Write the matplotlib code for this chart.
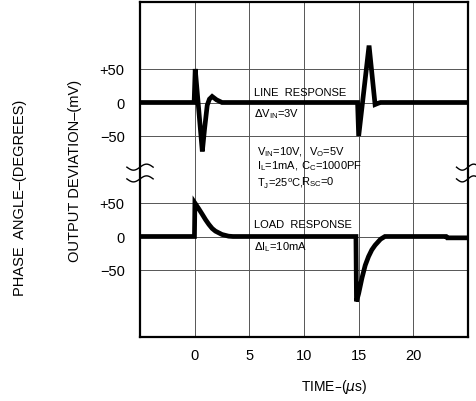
# plot.py — line / load transient response of a voltage regulator.
import numpy as np, matplotlib
matplotlib.use("Agg")
import matplotlib.pyplot as plt

plt.rcParams["font.family"] = ["Liberation Sans", "DejaVu Sans"]

# line response (upper trace), time in us, deviation in mV
line_t = [-5, -0.05, 0.05, 0.7, 0.9, 1.15, 1.35, 1.6, 2.0, 2.5,
          14.9, 15.0, 15.95, 16.5, 16.8, 17.0, 25]
line_mv = [0, 0, 50, -73, -40, -4, 5, 9, 4, 0,
           0, -50, 85, -3, -1, 0, 0]
# load response (lower trace)
load_t = [-5, -0.02, 0.02, 0.35, 0.7, 1.0, 1.3, 1.6, 1.9, 2.5, 3.1, 3.5,
          14.75, 14.8, 15.0, 15.3, 15.6, 15.9, 16.2, 16.5, 17.0, 17.4, 23.0, 23.1, 25]
load_mv = [0, 0, 50, 42, 33, 25, 18, 12, 8, 3, 0.5, 0,
           0, -97, -85, -62, -43, -30, -20, -13, -4, 0, 0, -2, -2]

x_ticks = [0, 5, 10, 15, 20]
y_ticks = [-50, 0, 50]
y_labels = ["\u221250", "0", "+50"]
offset = 200  # upper trace is stacked 200 mV above the lower one

fig = plt.figure(figsize=(4.76, 4.02), dpi=100)
ax = fig.add_axes([140 / 476, 1 - 338 / 402, 328 / 476, 335 / 402])
ax.set_xlim(-5, 25); ax.set_ylim(-150, 350)

ax.plot(line_t, np.array(line_mv) + offset, color="black", lw=3.4, solid_joinstyle="miter", zorder=3)
ax.plot(load_t, load_mv, color="black", lw=3.4, solid_joinstyle="miter", zorder=3)

ax.set_xticks(x_ticks)
yt = y_ticks + [v + offset for v in y_ticks]
ax.set_yticks(yt)
ax.set_yticklabels(y_labels + y_labels)
ax.tick_params(length=0, labelsize=10.5, colors="black")
ax.tick_params(axis="y", pad=11)
ax.tick_params(axis="x", pad=8)
ax.grid(True, color="#555555", lw=0.7)
ax.set_axisbelow(True)
for s in ax.spines.values():
    s.set_linewidth(1.6)

kw = dict(fontsize=8, va="center", ha="left")
sub = lambda s: r"$_{\mathregular{%s}}$" % s
ax.text(5.45, 216, "LINE  RESPONSE", **kw)
ax.text(5.45, 184, r"$\Delta$V" + sub("IN") + "=3V", **kw)
ax.text(5.7, 128, "V" + sub("IN") + "=10V,", **kw)
ax.text(10.45, 128, "V" + sub("O") + "=5V", **kw)
ax.text(5.7, 106, "I" + sub("L") + "=1mA,", **kw)
ax.text(9.7, 106, "C" + sub("C") + "=1000PF", **kw)
ax.text(5.7, 82, "T" + sub("J") + r"=25$^{\mathregular{o}}$C,", **kw)
ax.text(9.75, 82, "R" + sub("SC") + "=0", **kw)
ax.text(5.45, 18, "LOAD  RESPONSE", **kw)
ax.text(5.45, -15, r"$\Delta$I" + sub("L") + "=10mA", **kw)

# axis-break marks on both side borders
u = np.linspace(-1, 1, 40)
for x0, hw in [(0, 0.04), (1, 0.035)]:
    for y0 in [0.507, 0.472]:
        ax.plot(x0 + hw * u, y0 + 0.009 * np.sin(np.pi * u), color="black", lw=1.0,
                transform=ax.transAxes, clip_on=False, zorder=5)

fig.text(75 / 476, 1 - 171 / 402, "OUTPUT DEVIATION\u2013(mV)", rotation=90,
         ha="center", va="center", fontsize=10.5)
fig.text(20 / 476, 1 - 198 / 402, "PHASE  ANGLE\u2013(DEGREES)", rotation=90,
         ha="center", va="center", fontsize=10.5)
fig.text(334 / 476, 1 - 387 / 402, "TIME\u2013($\\mu$s)", ha="center", va="center", fontsize=10)

fig.savefig("out.png", dpi=100)
